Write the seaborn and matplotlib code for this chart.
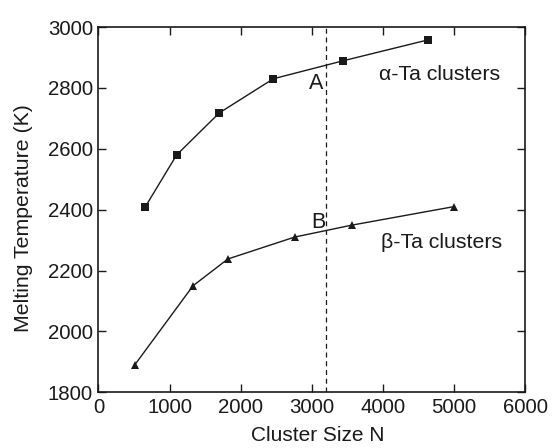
import matplotlib
matplotlib.use("Agg")
import matplotlib.pyplot as plt
import seaborn as sns
import pandas as pd

alpha_n = [660, 1100, 1700, 2460, 3440, 4640]
alpha_t = [2410, 2580, 2718, 2830, 2889, 2958]
beta_n = [510, 1330, 1820, 2760, 3560, 5000]
beta_t = [1890, 2150, 2238, 2310, 2349, 2410]
x_ticks = [0, 1000, 2000, 3000, 4000, 5000, 6000]
y_ticks = [1800, 2000, 2200, 2400, 2600, 2800, 3000]
boundary_n = 3200

sns.set_theme(style="ticks")
plt.rcParams['font.family'] = ['Liberation Sans', 'DejaVu Sans']

INK = "#1a1a1a"
fig = plt.figure(figsize=(5.58, 4.48), dpi=100)
ax = fig.add_axes([0.1765, 0.1243, 0.9409 - 0.1765, 0.9397 - 0.1243])

df_a = pd.DataFrame({"N": alpha_n, "T": alpha_t})
df_b = pd.DataFrame({"N": beta_n, "T": beta_t})
sns.lineplot(data=df_a, x="N", y="T", ax=ax, color=INK, lw=1.0,
             marker="s", markersize=5.6, markeredgewidth=0)
sns.lineplot(data=df_b, x="N", y="T", ax=ax, color=INK, lw=1.0,
             marker="^", markersize=6, markeredgewidth=0)
ax.axvline(boundary_n, color=INK, lw=0.9, ls=(0, (4, 3)))

ax.set_xlim(0, 6000)
ax.set_ylim(1800, 3000)
ax.set_xticks(x_ticks)
ax.set_yticks(y_ticks)
ax.tick_params(direction="in", length=6, width=1, top=True, right=True,
               labelsize=14.7, colors=INK, pad=4)
for s in ax.spines.values():
    s.set_linewidth(1.2)
    s.set_color(INK)
ax.set_xlabel("Cluster Size N", fontsize=15, color=INK)
ax.xaxis.set_label_coords(0.514, -0.092)
ax.set_ylabel("Melting Temperature (K)", fontsize=15.3, color=INK)
ax.yaxis.label.set_verticalalignment("center")
ax.yaxis.set_label_coords(-0.1756, 0.477)

ax.text(3060, 2815, "A", fontsize=15.5, ha="center", va="center", color=INK)
ax.text(3090, 2357, "B", fontsize=15.5, ha="center", va="center", color=INK)
ax.text(4800, 2845, "α-Ta clusters", fontsize=15.3, ha="center", va="center", color=INK)
ax.text(4820, 2292, "β-Ta clusters", fontsize=15.3, ha="center", va="center", color=INK)

fig.savefig("out.png", dpi=100)
